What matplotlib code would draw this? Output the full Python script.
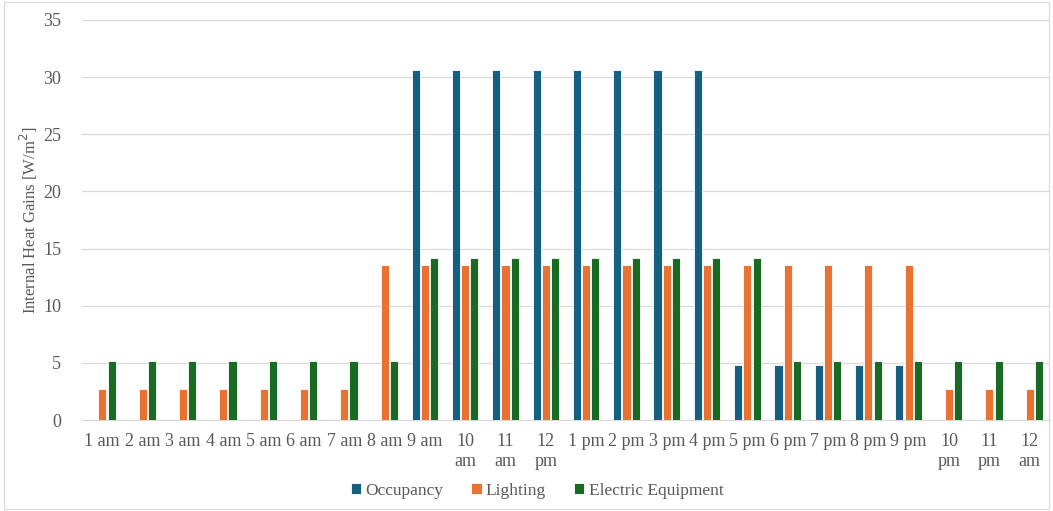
import numpy as np
import matplotlib
matplotlib.use("Agg")
import matplotlib.pyplot as plt

hours = ["1 am", "2 am", "3 am", "4 am", "5 am", "6 am", "7 am", "8 am", "9 am",
         "10\nam", "11\nam", "12\npm", "1 pm", "2 pm", "3 pm", "4 pm", "5 pm",
         "6 pm", "7 pm", "8 pm", "9 pm", "10\npm", "11\npm", "12\nam"]
occupancy = [0, 0, 0, 0, 0, 0, 0, 0, 30.6, 30.6, 30.6, 30.6, 30.6, 30.6, 30.6, 30.6,
             4.8, 4.8, 4.8, 4.8, 4.8, 0, 0, 0]
lighting = [2.7, 2.7, 2.7, 2.7, 2.7, 2.7, 2.7, 13.6, 13.6, 13.6, 13.6, 13.6, 13.6, 13.6,
            13.6, 13.6, 13.6, 13.6, 13.6, 13.6, 13.6, 2.7, 2.7, 2.7]
equipment = [5.2, 5.2, 5.2, 5.2, 5.2, 5.2, 5.2, 5.2, 14.2, 14.2, 14.2, 14.2, 14.2, 14.2,
             14.2, 14.2, 14.2, 5.2, 5.2, 5.2, 5.2, 5.2, 5.2, 5.2]

plt.rcParams['font.family'] = ['Liberation Serif', 'DejaVu Serif']
grey = '#595959'

fig = plt.figure(figsize=(10.53, 5.11), dpi=100)
ax = fig.add_axes([0.078, 0.178, 0.919, 0.783])

x = np.arange(len(hours))
w = 0.2
off = 0.23
ax.bar(x - off, occupancy, w, color='#156082', edgecolor='white', linewidth=0.6, label='Occupancy', zorder=3)
ax.bar(x, lighting, w, color='#E97132', edgecolor='white', linewidth=0.6, label='Lighting', zorder=3)
ax.bar(x + off, equipment, w, color='#196B24', edgecolor='white', linewidth=0.6, label='Electric Equipment', zorder=3)

ax.set_xlim(-0.5, len(hours) - 0.5)
ax.set_ylim(0, 35)
ax.set_yticks(range(0, 36, 5))
ax.set_xticks(x)
ax.set_xticklabels(hours, fontsize=13, color=grey, linespacing=1.3, va='top')
ax.tick_params(axis='y', labelsize=13, labelcolor=grey, length=0, pad=15)
ax.tick_params(axis='x', length=0, pad=9)
ax.grid(axis='y', color='#d9d9d9', linewidth=0.9, zorder=0)
for s in ['top', 'right', 'left']:
    ax.spines[s].set_visible(False)
ax.spines['bottom'].set_color('#d9d9d9')
ax.set_ylabel('Internal Heat Gains [W/m$^2$]', fontsize=12, color=grey, labelpad=2)

leg = fig.legend(loc='center', bbox_to_anchor=(0.51, 0.039), ncol=3, frameon=False,
                 fontsize=12.5, handlelength=0.6, handleheight=0.6, handletextpad=0.25,
                 columnspacing=1.6)
for t in leg.get_texts():
    t.set_color(grey)

fig.patches.append(plt.Rectangle((0.004, 0.004), 0.992, 0.992, transform=fig.transFigure,
                                 fill=False, edgecolor='#d9d9d9', linewidth=0.8))

fig.savefig('out.png', dpi=100)
